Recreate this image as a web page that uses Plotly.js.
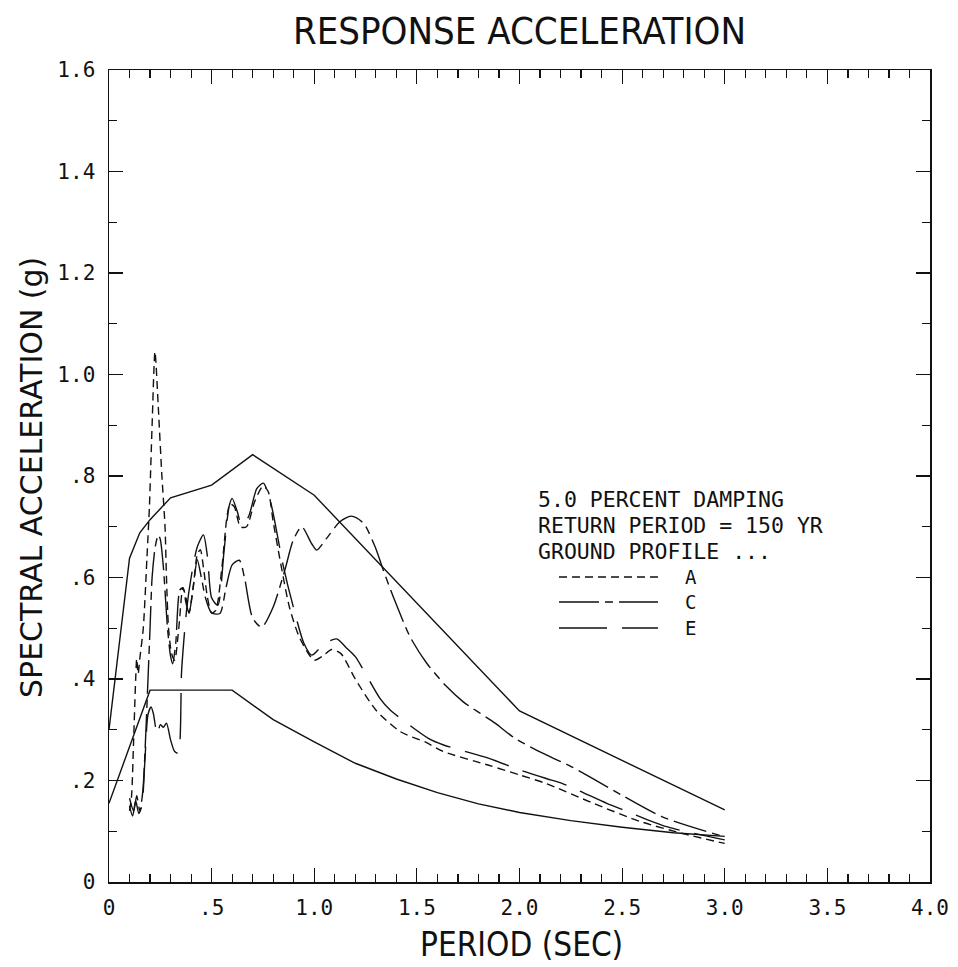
<!DOCTYPE html>
<html>
<head>
<meta charset="utf-8">
<script src="https://cdn.plot.ly/plotly-3.0.1.min.js"></script>
<style>
  html, body { margin: 0; padding: 0; background: #ffffff; }
  #chart { width: 958px; height: 967px; }
</style>
</head>
<body>
<div id="chart"></div>
<script>
// ---------------- DATA ----------------
// Upper design envelope (solid)
const periodUpper = [0.0, 0.1, 0.15, 0.2, 0.3, 0.5, 0.7, 1.0, 2.0, 3.0];
const accelUpper  = [0.30, 0.638, 0.688, 0.714, 0.757, 0.782, 0.842, 0.762, 0.337, 0.142];

// Lower design envelope (solid)
const periodLower = [0.0, 0.2, 0.6, 0.8, 1.0, 1.2, 1.4, 1.6, 1.8, 2.0, 2.25, 2.5, 2.75, 3.0];
const accelLower  = [0.155, 0.378, 0.378, 0.320, 0.276, 0.234, 0.203, 0.176, 0.154, 0.137, 0.121, 0.108, 0.097, 0.090];

// Ground profile A (short dashes)
const periodA = [0.10, 0.11, 0.12, 0.13, 0.135, 0.142, 0.15, 0.167, 0.185, 0.197, 0.21, 0.224, 0.24, 0.257, 0.273, 0.28, 0.29, 0.305, 0.32,
                 0.34, 0.36, 0.375, 0.39, 0.41, 0.43, 0.445, 0.46, 0.48, 0.50, 0.52, 0.55, 0.575, 0.59, 0.61, 0.64, 0.67, 0.71, 0.75, 0.775,
                 0.80, 0.84, 0.88, 0.93, 1.0, 1.04, 1.085, 1.13, 1.2, 1.3, 1.42, 1.54, 1.63, 1.85, 2.0, 2.13, 2.36, 2.59, 2.8, 3.0];
const accelA  = [0.14, 0.17, 0.28, 0.40, 0.44, 0.41, 0.44, 0.50, 0.64, 0.74, 0.90, 1.045, 0.937, 0.805, 0.70, 0.60, 0.50, 0.45, 0.437,
                 0.50, 0.58, 0.56, 0.53, 0.58, 0.645, 0.655, 0.62, 0.56, 0.53, 0.535, 0.62, 0.72, 0.745, 0.74, 0.70, 0.70, 0.75, 0.78, 0.77,
                 0.71, 0.62, 0.54, 0.48, 0.437, 0.445, 0.458, 0.45, 0.40, 0.339, 0.296, 0.276, 0.257, 0.230, 0.211, 0.194, 0.155, 0.119, 0.095, 0.076];

// Ground profile C (long - short - long dashes)
const periodC = [0.10, 0.12, 0.135, 0.15, 0.165, 0.18, 0.19, 0.20, 0.21, 0.225, 0.24, 0.25, 0.265, 0.285, 0.30, 0.31, 0.325, 0.345, 0.36,
                 0.375, 0.39, 0.41, 0.43, 0.45, 0.47, 0.50, 0.54, 0.57, 0.60, 0.635, 0.66, 0.70, 0.744, 0.80, 0.857, 0.898, 0.939, 0.987,
                 1.012, 1.06, 1.125, 1.18, 1.24, 1.296, 1.336, 1.385, 1.467, 1.548, 1.645, 1.726, 1.881, 1.978, 2.133, 2.254, 2.425, 2.693, 3.0];
const accelC  = [0.165, 0.14, 0.17, 0.14, 0.18, 0.30, 0.40, 0.50, 0.60, 0.66, 0.684, 0.675, 0.62, 0.50, 0.445, 0.43, 0.47, 0.575, 0.58,
                 0.55, 0.53, 0.58, 0.635, 0.60, 0.56, 0.53, 0.529, 0.58, 0.625, 0.634, 0.60, 0.52, 0.502, 0.542, 0.615, 0.674, 0.70, 0.667,
                 0.654, 0.677, 0.71, 0.721, 0.707, 0.661, 0.615, 0.562, 0.483, 0.431, 0.385, 0.355, 0.313, 0.283, 0.250, 0.227, 0.188, 0.129, 0.089];

// Ground profile E (long dashes)
const periodE = [0.10, 0.115, 0.13, 0.145, 0.16, 0.175, 0.19, 0.205, 0.216, 0.235, 0.25, 0.265, 0.28, 0.30, 0.32, 0.337, 0.354, 0.378,
                 0.40, 0.43, 0.46, 0.48, 0.50, 0.53, 0.56, 0.585, 0.60, 0.625, 0.646, 0.68, 0.72, 0.752, 0.78, 0.80, 0.85, 0.898, 0.95,
                 0.988, 1.05, 1.109, 1.16, 1.2, 1.32, 1.37, 1.556, 1.63, 1.848, 2.0, 2.13, 2.21, 2.425, 2.506, 2.717, 3.0];
const accelE  = [0.15, 0.13, 0.16, 0.135, 0.15, 0.24, 0.33, 0.345, 0.332, 0.29, 0.31, 0.305, 0.313, 0.28, 0.257, 0.254, 0.418, 0.536,
                 0.60, 0.66, 0.684, 0.64, 0.56, 0.545, 0.65, 0.74, 0.756, 0.73, 0.703, 0.72, 0.775, 0.786, 0.76, 0.726, 0.621, 0.542, 0.47,
                 0.447, 0.47, 0.479, 0.46, 0.444, 0.362, 0.339, 0.283, 0.270, 0.244, 0.221, 0.204, 0.194, 0.155, 0.142, 0.109, 0.083];

// Tick labels
const xTickVals  = [0, 0.5, 1.0, 1.5, 2.0, 2.5, 3.0, 3.5, 4.0];
const xTickTexts = ["0", ".5", "1.0", "1.5", "2.0", "2.5", "3.0", "3.5", "4.0"];
const yTickVals  = [0, 0.2, 0.4, 0.6, 0.8, 1.0, 1.2, 1.4, 1.6];
const yTickTexts = ["0", ".2", ".4", ".6", ".8", "1.0", "1.2", "1.4", "1.6"];

// Legend / note texts
const noteLines   = ["5.0 PERCENT DAMPING", "RETURN PERIOD = 150 YR", "GROUND PROFILE ..."];
const legendNames = ["A", "C", "E"];

// ---------------- STYLES ----------------
const INK = "#111111";
const DASH_A = "8px,5px";
const DASH_C = "34px,6px,8px,6px";
const DASH_E = "46px,15px";
const legendDashes = [DASH_A, "40px,6px,8px,6px", "48px,15px"];
const MONO = "DejaVu Sans Mono, Liberation Mono, monospace";
const NARROW = "Liberation Sans Narrow, DejaVu Sans Condensed, Arial Narrow, sans-serif";

const traces = [
  {x: periodUpper, y: accelUpper, mode: "lines", line: {color: INK, width: 1.4}, name: "upper"},
  {x: periodLower, y: accelLower, mode: "lines", line: {color: INK, width: 1.4}, name: "lower"},
  {x: periodA, y: accelA, mode: "lines", line: {color: INK, width: 1.4, dash: DASH_A, shape: "spline", smoothing: 0.7}, name: "A"},
  {x: periodC, y: accelC, mode: "lines", line: {color: INK, width: 1.4, dash: DASH_C, shape: "spline", smoothing: 0.7}, name: "C"},
  {x: periodE, y: accelE, mode: "lines", line: {color: INK, width: 1.4, dash: DASH_E, shape: "spline", smoothing: 0.7}, name: "E"}
];

// plot area in pixels
const L = 109, R = 28, T = 70, B = 85;
const W = 958, H = 967;
const pw = W - L - R, ph = H - T - B;
function px2paperX(px) { return (px - L) / pw; }
function px2paperY(py) { return (H - B - py) / ph; }

const annotations = [];
const shapes = [];
// y-axis title
annotations.push({text: "SPECTRAL ACCELERATION (g)", xref: "paper", yref: "paper",
  x: px2paperX(31), y: px2paperY(478), textangle: -90, showarrow: false,
  xanchor: "center", yanchor: "middle",
  font: {family: "DejaVu Sans, sans-serif", size: 30, color: INK}});
// x-axis title
annotations.push({text: "PERIOD (SEC)", xref: "paper", yref: "paper",
  x: px2paperX(521), y: px2paperY(944), showarrow: false,
  xanchor: "center", yanchor: "middle",
  font: {family: NARROW, size: 33, color: INK}});
// note text
const noteY = [500, 525, 551];
noteLines.forEach((t, i) => annotations.push({text: t, xref: "paper", yref: "paper",
  x: px2paperX(536), y: px2paperY(noteY[i]), showarrow: false, xanchor: "left", yanchor: "middle",
  font: {family: MONO, size: 21.5, color: INK}}));
// legend samples
const legY = [577, 602, 628];
legendNames.forEach((n, i) => {
  shapes.push({type: "line", xref: "paper", yref: "paper",
    x0: px2paperX(559), x1: px2paperX(658), y0: px2paperY(legY[i]), y1: px2paperY(legY[i]),
    line: {color: INK, width: 1.3, dash: legendDashes[i]}});
  annotations.push({text: n, xref: "paper", yref: "paper",
    x: px2paperX(683), y: px2paperY(legY[i]), showarrow: false, xanchor: "left", yanchor: "middle",
    font: {family: MONO, size: 19, color: INK}});
});

const axisCommon = {
  showline: true, linecolor: INK, linewidth: 1.5, mirror: "allticks",
  ticks: "inside", tickcolor: INK, tickwidth: 1.2, ticklen: 14,
  showgrid: false, zeroline: false, fixedrange: true,
  tickfont: {family: MONO, size: 21, color: INK},
  tickmode: "array"
};

const layout = {
  width: W, height: H,
  paper_bgcolor: "#ffffff", plot_bgcolor: "#ffffff",
  margin: {l: L, r: R, t: T, b: B, pad: 0},
  showlegend: false,
  title: {text: "RESPONSE ACCELERATION", x: 0.5, xref: "paper", y: 1 - 31 / H, yref: "container",
          xanchor: "center", yanchor: "middle", font: {family: NARROW, size: 38, color: INK}},
  xaxis: Object.assign({}, axisCommon, {range: [0, 4.0], tickvals: xTickVals, ticktext: xTickTexts, ticklabelstandoff: 6,
    minor: {dtick: 0.1, ticks: "inside", ticklen: 8, tickcolor: INK, tickwidth: 1.2, showgrid: false}}),
  yaxis: Object.assign({}, axisCommon, {range: [0, 1.6], tickvals: yTickVals, ticktext: yTickTexts, ticklabelstandoff: 8,
    minor: {dtick: 0.1, ticks: "inside", ticklen: 8, tickcolor: INK, tickwidth: 1.2, showgrid: false}}),
  annotations: annotations,
  shapes: shapes
};

Plotly.newPlot("chart", traces, layout, {staticPlot: true, displayModeBar: false});
</script>
</body>
</html>
